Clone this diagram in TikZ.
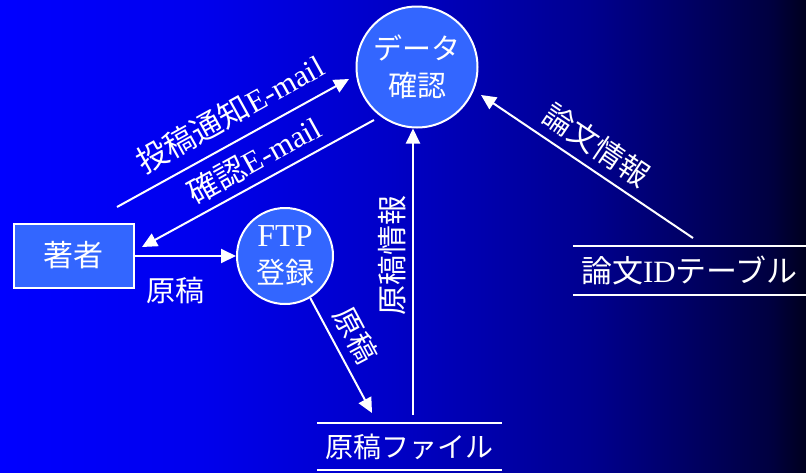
\documentclass[tikz,border=0pt]{standalone}
\usepackage{fontspec}
\setmainfont{Liberation Serif}
\newfontfamily\jp{Noto Sans CJK JP}
\usetikzlibrary{arrows.meta}

\pgfdeclarehorizontalshading{bgfade}{100bp}{rgb(0bp)=(0,0,1); rgb(25bp)=(0,0,1); rgb(37.4bp)=(0,0,0.93); rgb(49.2bp)=(0,0,0.78); rgb(61.6bp)=(0,0,0.56); rgb(72.8bp)=(0,0,0.25); rgb(75bp)=(0,0,0.12); rgb(100bp)=(0,0,0.12)}
\definecolor{procfill}{RGB}{51,102,255}

\tikzset{
  proc/.style={circle, draw=white, line width=2pt, fill=procfill, text=white, align=center, inner sep=0pt, font=\fontsize{29}{37}\selectfont},
  ext/.style={rectangle, draw=white, line width=2pt, fill=procfill, text=white, minimum width=120pt, minimum height=64pt, font=\jp\fontsize{30}{30}\selectfont},
  store/.style={text=white, inner sep=0pt, font=\fontsize{28}{30}\selectfont},
  flow/.style={white, line width=2pt, -{Triangle[length=15pt,width=14pt]}},
  lbl/.style={text=white, inner sep=0pt, font=\fontsize{30}{32}\selectfont},
}

\begin{document}
\begin{tikzpicture}[x=1pt,y=-1pt]
    \useasboundingbox (0,0) rectangle (806,472);
    \shade[shading=bgfade] (0,0) rectangle (806,472);

    % processes and entities
    \node[proc, minimum size=121pt] (check) at (417,67) {{\jp データ}\\{\jp 確認}};
    \node[proc, minimum size=96pt] (ftp) at (285,256) {{\fontsize{32}{37}\selectfont FTP}\\{\jp 登録}};
    \node[ext] (author) at (73.5,255.5) {著者};
    \node[store, minimum width=185pt, minimum height=47pt] (msfile) at (409.5,446.5) {{\jp 原稿ファイル}};
    \node[store, minimum width=233pt, minimum height=49pt, font=\fontsize{31}{32}\selectfont] (idtable) at (689.5,270.5) {{\jp 論文}ID{\jp テーブル}};
    \draw[white, line width=2pt] (msfile.north west) -- (msfile.north east);
    \draw[white, line width=2pt] (msfile.south west) -- (msfile.south east);
    \draw[white, line width=2pt] (idtable.north west) -- (idtable.north east);
    \draw[white, line width=2pt] (idtable.south west) -- (idtable.south east);

    % free ends of the flows
    \coordinate (notifyA) at (117,207);
    \coordinate (notifyB) at (349,79);
    \coordinate (confirmA) at (374,120);
    \coordinate (confirmB) at (142,247);
    \coordinate (uploadB) at (372,413);
    \coordinate (infoA) at (413,415);
    \coordinate (paperA) at (693,238);
    \coordinate (paperB) at (481,95);

    % flows
    \draw[flow] (notifyA) -- (notifyB);
    \draw[flow] (confirmA) -- (confirmB);
    \draw[flow] (author.east |- ftp.west) -- (ftp.west);
    \draw[flow] (ftp.-59) -- (uploadB);
    \draw[flow] (infoA) -- (infoA |- check.south);
    \draw[flow] (paperA) -- (paperB);

    % flow labels
    \node[lbl, rotate=29, font=\fontsize{31}{32}\selectfont] (notifylbl) at (230,114) {{\jp 投稿通知}E-mail};
    \node[lbl, rotate=29, font=\fontsize{31}{32}\selectfont] (confirmlbl) at (254,160) {{\jp 確認}E-mail};
    \node[lbl, font=\fontsize{29}{32}\selectfont] (mslbl) at (175,290) {{\jp 原稿}};
    \node[lbl, rotate=-62, font=\fontsize{29}{32}\selectfont] (uploadlbl) at (356,335) {{\jp 原稿}};
    \node[lbl, rotate=90] (infolbl) at (392,255) {{\jp 原稿情報}};
    \node[lbl, rotate=-34] (paperlbl) at (597,145) {{\jp 論文情報}};
\end{tikzpicture}
\end{document}
